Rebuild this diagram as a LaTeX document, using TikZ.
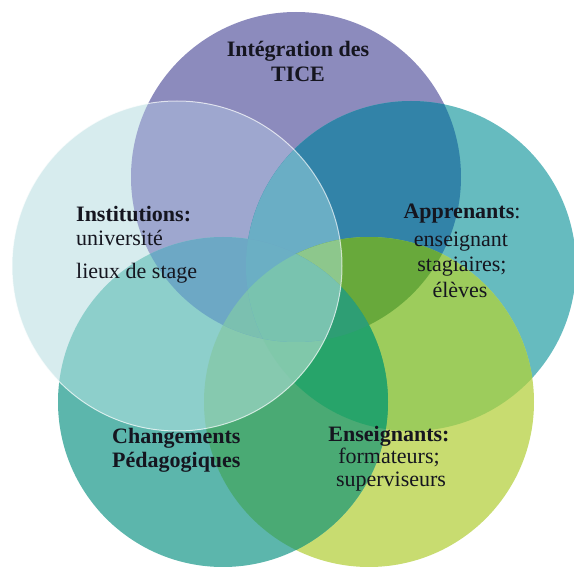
\documentclass[tikz,border=0pt]{standalone}
\usepackage{fontspec}
\setmainfont{Liberation Serif}
% single regions
\definecolor{cT}{HTML}{8C8BBD}
\definecolor{cL}{HTML}{D7ECEE}
\definecolor{cR}{HTML}{66BBBF}
\definecolor{cBL}{HTML}{5CB6AC}
\definecolor{cBR}{HTML}{C8DC70}
% pairs
\definecolor{cTL}{HTML}{9EA7CF}
\definecolor{cTR}{HTML}{3283A8}
\definecolor{cRBR}{HTML}{9DCC5C}
\definecolor{cBRBL}{HTML}{4AAA74}
\definecolor{cBLL}{HTML}{8DCFCB}
% triples
\definecolor{cTLR}{HTML}{6AAEC5}
\definecolor{cRTBR}{HTML}{68A93B}
\definecolor{cBRRBL}{HTML}{27A46A}
\definecolor{cBLBRL}{HTML}{86C9AF}
\definecolor{cLBLT}{HTML}{6DA8C5}
% quads
\definecolor{cnoBL}{HTML}{8DC78C}
\definecolor{cnoL}{HTML}{2E9E74}
\definecolor{cnoT}{HTML}{80C8AA}
\definecolor{cnoR}{HTML}{7BC0B0}
\definecolor{cnoBR}{HTML}{6BAFC4}
% all
\definecolor{cAll}{HTML}{79C3AF}
\definecolor{txt}{HTML}{15151F}
\newcommand\clipc[1]{\clip (#1) circle (165pt);}
\newcommand\paintbox[1]{\fill[#1] (BBa) rectangle (BBb);}
\begin{document}
\begin{tikzpicture}[x=1pt,y=-1pt,
  lbl/.style={inner sep=0pt, text=txt, font=\fontsize{22}{26}\selectfont},
  lblb/.style={inner sep=0pt, text=txt, font=\fontsize{22}{26}\selectfont\bfseries}]
\useasboundingbox (0,0) rectangle (574,567);
\coordinate (BBa) at (0,0);
\coordinate (BBb) at (574,567);
\coordinate (T) at (296,177);
\coordinate (L) at (177,266);
\coordinate (R) at (411,266);
\coordinate (BL) at (223,402);
\coordinate (BR) at (369,402);
% single circles
\fill[cT] (T) circle (165pt);
\fill[cR] (R) circle (165pt);
\fill[cBR] (BR) circle (165pt);
\fill[cBL] (BL) circle (165pt);
\fill[cL] (L) circle (165pt);
% adjacent pairs
\begin{scope}\clipc{T}\clipc{L}\paintbox{cTL}\end{scope}
\begin{scope}\clipc{T}\clipc{R}\paintbox{cTR}\end{scope}
\begin{scope}\clipc{R}\clipc{BR}\paintbox{cRBR}\end{scope}
\begin{scope}\clipc{BR}\clipc{BL}\paintbox{cBRBL}\end{scope}
\begin{scope}\clipc{BL}\clipc{L}\paintbox{cBLL}\end{scope}
% triples (a circle and its two neighbours)
\begin{scope}\clipc{T}\clipc{L}\clipc{R}\paintbox{cTLR}\end{scope}
\begin{scope}\clipc{R}\clipc{T}\clipc{BR}\paintbox{cRTBR}\end{scope}
\begin{scope}\clipc{BR}\clipc{R}\clipc{BL}\paintbox{cBRRBL}\end{scope}
\begin{scope}\clipc{BL}\clipc{BR}\clipc{L}\paintbox{cBLBRL}\end{scope}
\begin{scope}\clipc{L}\clipc{BL}\clipc{T}\paintbox{cLBLT}\end{scope}
% quads
\begin{scope}\clipc{T}\clipc{L}\clipc{R}\clipc{BR}\paintbox{cnoBL}\end{scope}
\begin{scope}\clipc{T}\clipc{R}\clipc{BR}\clipc{BL}\paintbox{cnoL}\end{scope}
\begin{scope}\clipc{L}\clipc{R}\clipc{BR}\clipc{BL}\paintbox{cnoT}\end{scope}
\begin{scope}\clipc{T}\clipc{L}\clipc{BR}\clipc{BL}\paintbox{cnoR}\end{scope}
\begin{scope}\clipc{T}\clipc{L}\clipc{R}\clipc{BL}\paintbox{cnoBR}\end{scope}
% all five
\begin{scope}\clipc{T}\clipc{L}\clipc{R}\clipc{BR}\clipc{BL}\paintbox{cAll}\end{scope}
% outlines
\draw[white, opacity=0.65, line width=1pt] (L) circle (165pt);
% labels
\node[lblb, anchor=base] (tice1) at (298,57) {Intégration des};
\node[lblb, anchor=base] (tice2) at (298,82) {TICE};
\node[lblb, anchor=base west] (inst1) at (76,222) {Institutions:};
\node[lbl, anchor=base west] (inst2) at (76,246) {université};
\node[lbl, anchor=base west] (inst3) at (76,279) {lieux de stage};
\node[lbl, anchor=base] (app1) at (462,219) {\textbf{Apprenants}:};
\node[lbl, anchor=base] (app2) at (461,247) {enseignant};
\node[lbl, anchor=base] (app3) at (462,272) {stagiaires;};
\node[lbl, anchor=base] (app4) at (460,298) {élèves};
\node[lblb, anchor=base west] (chg1) at (112,443) {Changements};
\node[lblb, anchor=base west] (chg2) at (112,467) {Pédagogiques};
\node[lblb, anchor=base] (ens1) at (389,441) {Enseignants:};
\node[lbl, anchor=base] (ens2) at (389,463) {formateurs;};
\node[lbl, anchor=base] (ens3) at (391,486) {superviseurs};
\end{tikzpicture}
\end{document}
